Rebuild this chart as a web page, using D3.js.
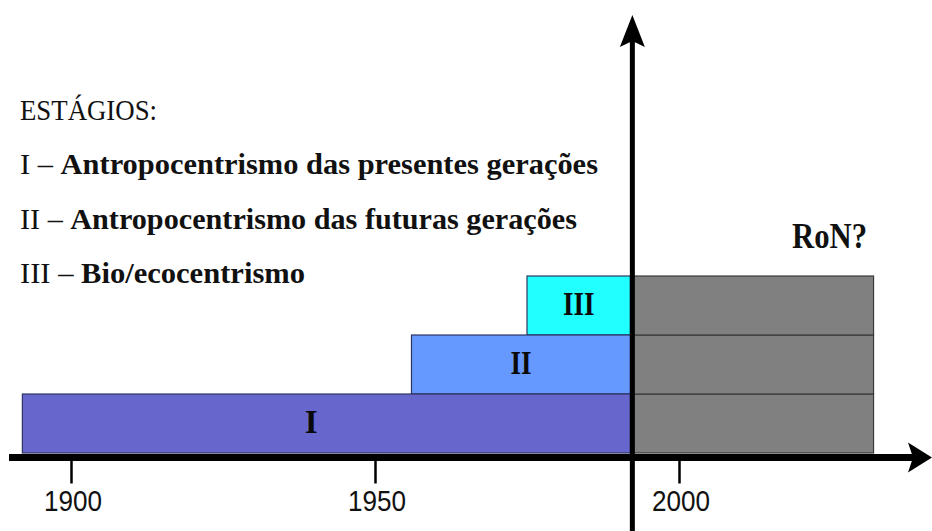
<!DOCTYPE html>
<html>
<head>
<meta charset="utf-8">
<script src="https://cdn.jsdelivr.net/npm/d3@7"></script>
<style>
  body { margin: 0; background: #fff; }
  svg { display: block; }
</style>
</head>
<body>
<svg id="chart" width="932" height="531"></svg>
<script>
// stages: start year, end year, level (0 = bottom row)
const stageNames = ['I', 'II', 'III'];
const stageStart = [1892, 1956, 1975];
const stageEnd = [1992, 1992, 1992];
const stageColors = ['#6666cc', '#6699ff', '#22ffff'];

// the uncertain part after the present, one gray block per stage
const futureStart = 1992;
const futureEnd = 2032;

const tickYears = [1900, 1950, 2000];

const legendHeader = 'ESTÁGIOS:';
const legendNums = ['I', 'II', 'III'];
const legendTexts = [
  'Antropocentrismo das presentes gerações',
  'Antropocentrismo das futuras gerações',
  'Bio/ecocentrismo',
];

const svg = d3.select('#chart');
const height = 531;

const x = d3.scaleLinear().domain([1900, 2000]).range([71, 679]);
const y = d3.scaleLinear().domain([0, 3]).range([453, 276]);

const serif = '"Liberation Serif", "DejaVu Serif", serif';

const stages = stageNames.map((name, i) => ({
  name,
  start: stageStart[i],
  end: stageEnd[i],
  level: i,
  color: stageColors[i],
}));

// gray future blocks
svg.selectAll('.future')
  .data(stages)
  .enter()
  .append('rect')
  .attr('class', 'future')
  .attr('x', x(futureStart))
  .attr('y', d => y(d.level + 1))
  .attr('width', x(futureEnd) - x(futureStart))
  .attr('height', d => y(d.level) - y(d.level + 1))
  .attr('fill', '#808080')
  .attr('stroke', '#3a3a3a')
  .attr('stroke-width', 1.2);

// stage bars, top first so lower ones sit above their borders
svg.selectAll('.stage')
  .data(stages.slice().reverse())
  .enter()
  .append('rect')
  .attr('class', 'stage')
  .attr('x', d => x(d.start))
  .attr('y', d => y(d.level + 1))
  .attr('width', d => x(d.end) - x(d.start))
  .attr('height', d => y(d.level) - y(d.level + 1))
  .attr('fill', d => d.color)
  .attr('stroke', '#2e3560')
  .attr('stroke-width', 1.2);

// numerals in the bars (I sits a bit left of centre in the original)
svg.selectAll('.stage-label')
  .data(stages)
  .enter()
  .append('text')
  .attr('class', 'stage-label')
  .attr('x', d => d.level === 0 ? x(1939.5) : (x(d.start) + x(d.end)) / 2)
  .attr('y', d => (y(d.level) + y(d.level + 1)) / 2 + 9)
  .attr('text-anchor', 'middle')
  .attr('font-family', serif)
  .attr('font-weight', 'bold')
  .attr('font-size', 33)
  .attr('fill', '#0a0a0a')
  .each(function (d) {
    if (d.name.length > 1) {
      d3.select(this)
        .attr('textLength', d.name.length * 10.5)
        .attr('lengthAdjust', 'spacingAndGlyphs');
    }
  })
  .text(d => d.name);

// x axis with arrow
const xAxisY = 457.5;
svg.append('line')
  .attr('x1', 9).attr('x2', 915)
  .attr('y1', xAxisY).attr('y2', xAxisY)
  .attr('stroke', '#000').attr('stroke-width', 7);
svg.append('path')
  .attr('d', `M932,${xAxisY} L908,${xAxisY - 15} L913,${xAxisY} L908,${xAxisY + 15} Z`)
  .attr('fill', '#000');

const xAxis = d3.axisBottom(x)
  .tickValues(tickYears)
  .tickSize(26)
  .tickFormat(d3.format('d'));

const axisG = svg.append('g')
  .attr('transform', `translate(0,${xAxisY})`)
  .call(xAxis);
axisG.select('.domain').remove();
axisG.selectAll('.tick line').attr('stroke', '#000').attr('stroke-width', 2.5);
axisG.selectAll('.tick text')
  .attr('font-family', '"Liberation Sans", Arial, sans-serif')
  .attr('font-size', 30)
  .attr('fill', '#111')
  .attr('y', 53.5)
  .attr('dy', null)
  .attr('dx', '0.05em')
  .attr('textLength', 58)
  .attr('lengthAdjust', 'spacingAndGlyphs');

// vertical "present" axis with arrow
const vx = x(1992) + 2;
svg.append('line')
  .attr('x1', vx).attr('x2', vx)
  .attr('y1', 40).attr('y2', height)
  .attr('stroke', '#000').attr('stroke-width', 5);
svg.append('path')
  .attr('d', `M${vx},15 L${vx - 12.5},47 L${vx},41 L${vx + 12.5},47 Z`)
  .attr('fill', '#000');

// legend
const legend = svg.append('g')
  .attr('font-family', serif)
  .attr('font-size', 30)
  .attr('fill', '#111');

legend.append('text')
  .attr('x', 20).attr('y', 120)
  .attr('textLength', 137)
  .attr('lengthAdjust', 'spacingAndGlyphs')
  .text(legendHeader);

const legendLengths = [578, 557, 285];
legendTexts.forEach((t, i) => {
  const line = legend.append('text')
    .attr('x', 20)
    .attr('y', 174 + i * 54.5)
    .attr('textLength', legendLengths[i])
    .attr('lengthAdjust', 'spacingAndGlyphs');
  line.append('tspan').text(legendNums[i] + ' – ');
  line.append('tspan').attr('font-weight', 'bold').text(t);
});

svg.append('text')
  .attr('x', 792).attr('y', 248)
  .attr('font-family', serif)
  .attr('font-weight', 'bold')
  .attr('font-size', 36)
  .attr('fill', '#111')
  .attr('textLength', 75)
  .attr('lengthAdjust', 'spacingAndGlyphs')
  .text('RoN?');
</script>
</body>
</html>
